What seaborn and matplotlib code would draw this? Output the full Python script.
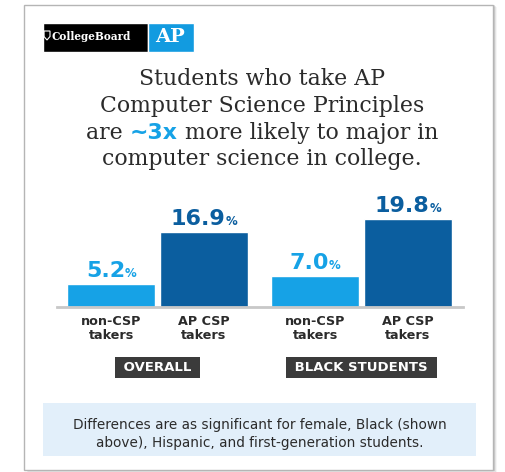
import matplotlib
matplotlib.use("Agg")
import matplotlib.pyplot as plt
import seaborn as sns
import pandas as pd
from matplotlib.patches import Rectangle, Polygon
from matplotlib.offsetbox import TextArea, HPacker, AnnotationBbox

# data
groups = ["OVERALL", "BLACK STUDENTS"]
takers = ["non-CSP\ntakers", "AP CSP\ntakers"]
overall_vals = [5.2, 16.9]
black_vals = [7.0, 19.8]
title_lines = ["Students who take AP", "Computer Science Principles",
               "are ", "~3x", " more likely to major in",
               "computer science in college."]
footer = "Differences are as significant for female, Black (shown\nabove), Hispanic, and first-generation students."

LIGHT = "#16a2e6"
DARK = "#0b5e9f"
INK = "#2b2b2b"

df = pd.DataFrame({
    "group": [groups[0]] * 2 + [groups[1]] * 2,
    "taker": takers * 2,
    "value": overall_vals + black_vals,
})

sns.set_style("white")
W, H = 506, 472
fig = plt.figure(figsize=(W / 100, H / 100), dpi=100)


def fx(px):
    return px / W


def fy(py):
    return 1 - py / H


# card with shadow
for i, a in enumerate([0.10, 0.07, 0.04]):
    fig.patches.append(Rectangle((fx(25 + i + 1), fy(471 + i)), fx(469), fy(5) - fy(471),
                                 transform=fig.transFigure, facecolor="black", alpha=a,
                                 edgecolor="none", zorder=0))
fig.patches.append(Rectangle((fx(24), fy(470)), fx(469), fy(5) - fy(470),
                             transform=fig.transFigure, facecolor="white",
                             edgecolor="#b5b5b5", linewidth=1, zorder=1))

# logo
fig.patches.append(Rectangle((fx(43), fy(52)), fx(105), fy(23) - fy(52),
                             transform=fig.transFigure, facecolor="black", zorder=2))
fig.patches.append(Rectangle((fx(148), fy(52)), fx(46), fy(23) - fy(52),
                             transform=fig.transFigure, facecolor="#129be0", zorder=2))
fig.patches.append(Polygon([(fx(44), fy(31)), (fx(50), fy(31)), (fx(50), fy(36.5)),
                            (fx(47), fy(40)), (fx(44), fy(36.5))],
                           closed=True, transform=fig.transFigure, facecolor="none",
                           edgecolor="white", linewidth=0.8, zorder=3))
fig.text(fx(51.5), fy(36.5), "CollegeBoard", color="white", fontsize=7.6,
         family="DejaVu Serif", fontweight="bold", va="center", ha="left", zorder=3)
fig.text(fx(170), fy(37.5), "AP", color="white", fontsize=14, family="DejaVu Serif",
         fontweight="bold", va="center", ha="center", zorder=3)

# title
serif = dict(family="DejaVu Serif", fontsize=15.8, color=INK)
fig.text(0.518, fy(79), title_lines[0], ha="center", va="center", zorder=3, **serif)
fig.text(0.518, fy(106), title_lines[1], ha="center", va="center", zorder=3, **serif)
line3 = HPacker(children=[
    TextArea(title_lines[2], textprops=serif),
    TextArea(title_lines[3], textprops=dict(family="DejaVu Sans", fontsize=15.8,
                                             fontweight="bold", color=LIGHT)),
    TextArea(title_lines[4], textprops=serif),
], align="baseline", pad=0, sep=0)
fig.add_artist(AnnotationBbox(line3, (0.518, fy(133)), xycoords="figure fraction",
                              frameon=False, box_alignment=(0.5, 0.5), zorder=3))
fig.text(0.518, fy(159), title_lines[5], ha="center", va="center", zorder=3, **serif)

# bars
ax = fig.add_axes([fx(57), fy(306.7), fx(463 - 57), fy(200) - fy(306.7)])
ax.set_zorder(4)
ax.patch.set_alpha(0)
sns.barplot(data=df, x="group", y="value", hue="taker", order=groups,
            hue_order=takers, palette=[LIGHT, DARK], width=0.907, gap=0.05,
            saturation=1, legend=False, ax=ax)
ax.set_xlim(-0.493, 1.498)
ax.set_ylim(0, 24.1)
ax.set_xticks([])
ax.set_yticks([])
ax.set_xlabel("")
ax.set_ylabel("")
sns.despine(ax=ax, left=True)
ax.spines["bottom"].set_color("#c8c8c8")
ax.spines["bottom"].set_linewidth(2)

bars = sorted(ax.patches, key=lambda p: p.get_x())
vals = overall_vals + black_vals
cols = [LIGHT, DARK, LIGHT, DARK]
for i, (bar, v) in enumerate(zip(bars, vals)):
    cx = bar.get_x() + bar.get_width() / 2
    num = HPacker(children=[
        TextArea(f"{v:.1f}", textprops=dict(fontsize=16, fontweight="bold", color=cols[i])),
        TextArea("%", textprops=dict(fontsize=8.5, fontweight="bold", color=cols[i])),
    ], align="baseline", pad=0, sep=0)
    ax.add_artist(AnnotationBbox(num, (cx, bar.get_height()), xycoords="data",
                                 xybox=(0, 2), boxcoords="offset points",
                                 frameon=False, box_alignment=(0.5, 0), annotation_clip=False))
    ax.annotate(takers[i % 2], (cx, 0), xytext=(0, -6), textcoords="offset points",
                ha="center", va="top", fontsize=9.2, fontweight="bold", color=INK,
                linespacing=1.1, annotation_clip=False)

# group tags
for cx, lab in zip([0, 1], groups):
    ax.annotate(f" {lab} ", (cx, 0), xytext=(0, -39), textcoords="offset points",
                ha="center", va="top", fontsize=9.5, fontweight="bold", color="white",
                annotation_clip=False,
                bbox=dict(boxstyle="square,pad=0.3", facecolor="#3b3b3b", edgecolor="none"))

# footer
fig.patches.append(Rectangle((fx(43), fy(456)), fx(433), fy(403) - fy(456),
                             transform=fig.transFigure, facecolor="#e2effa",
                             edgecolor="none", zorder=2))
fig.text(fx(260), fy(434), footer, ha="center", va="center", fontsize=9.8,
         color=INK, linespacing=1.3, zorder=3)

fig.savefig("out.png", dpi=100)
